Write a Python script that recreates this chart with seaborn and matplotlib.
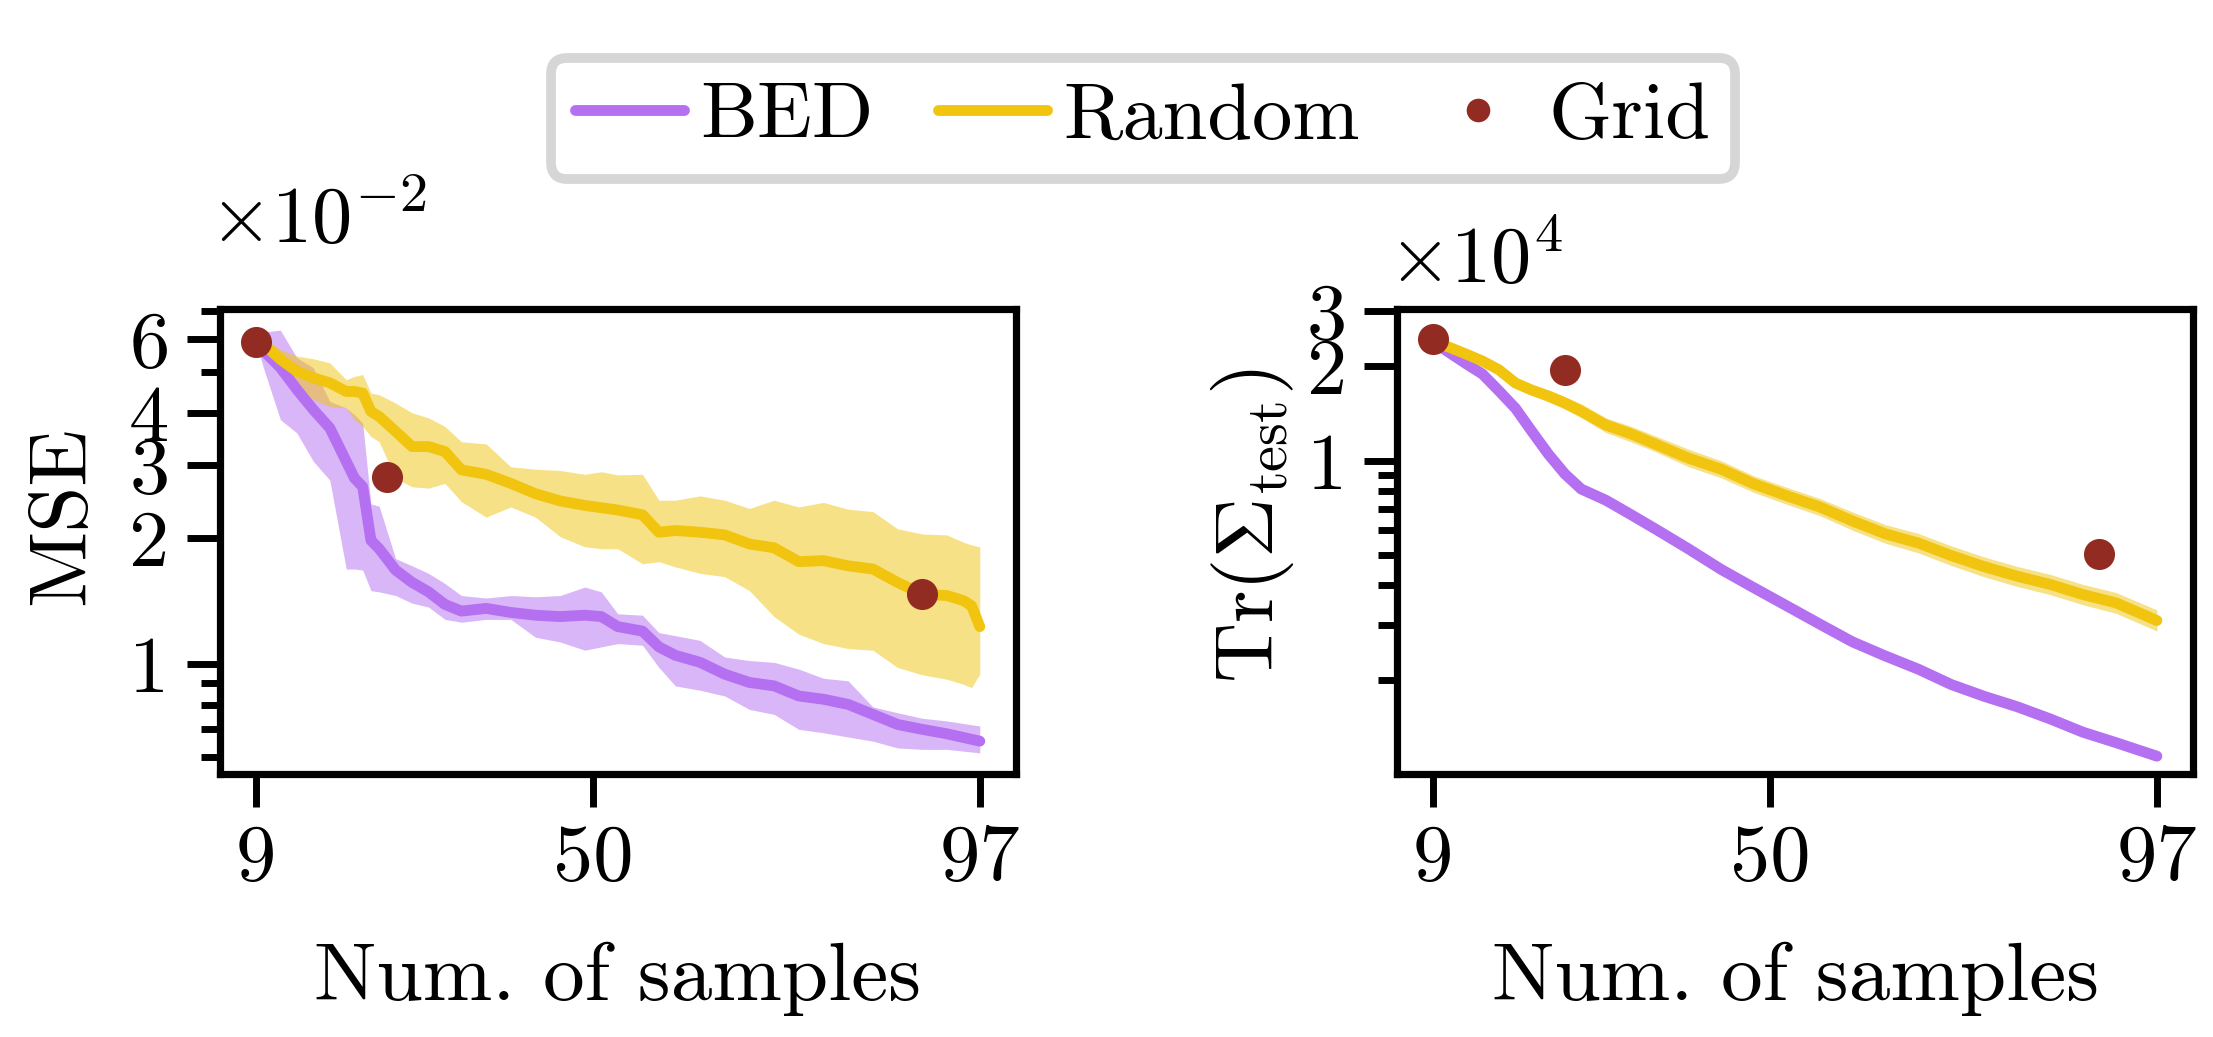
import matplotlib
matplotlib.use("Agg")
import matplotlib.pyplot as plt
from matplotlib.lines import Line2D
from matplotlib.ticker import NullFormatter
import seaborn as sns
import pandas as pd

# ---------------- data (values in units of the offset: MSE x1e-2, Tr x1e4) ----------------
bed_x = [9, 10, 12, 14, 16, 18, 20, 21, 22, 23, 24, 26, 28, 30, 32, 34, 37, 40, 43, 46,
         49, 51, 53, 56, 58, 60, 63, 66, 69, 72, 75, 78, 81, 84, 87, 90, 93, 97]
bed_mse = [5.91, 5.62, 5.13, 4.55, 4.07, 3.68, 3.06, 2.79, 2.66, 1.98, 1.89, 1.68, 1.57, 1.49,
           1.39, 1.34, 1.36, 1.33, 1.31, 1.30, 1.31, 1.30, 1.23, 1.20, 1.10, 1.05, 1.01, 0.946,
           0.904, 0.887, 0.839, 0.824, 0.801, 0.758, 0.717, 0.698, 0.681, 0.654]
bed_mse_hi = [5.91, 6.25, 6.31, 5.42, 5.13, 4.26, 4.11, 3.96, 3.78, 2.42, 2.39, 1.79, 1.72, 1.65,
              1.56, 1.46, 1.44, 1.46, 1.45, 1.46, 1.53, 1.49, 1.32, 1.31, 1.19, 1.17, 1.14, 1.04,
              1.02, 1.01, 0.973, 0.925, 0.912, 0.790, 0.765, 0.742, 0.731, 0.711]
bed_mse_lo = [5.91, 5.08, 3.85, 3.58, 3.06, 2.76, 1.69, 1.69, 1.68, 1.50, 1.49, 1.46, 1.40, 1.37,
              1.28, 1.26, 1.28, 1.28, 1.16, 1.13, 1.08, 1.10, 1.12, 1.11, 0.982, 0.887, 0.866,
              0.839, 0.779, 0.758, 0.698, 0.685, 0.669, 0.654, 0.630, 0.625, 0.625, 0.613]

rnd_x = [9, 10, 12, 14, 16, 18, 20, 21, 22, 23, 24, 26, 28, 30, 32, 34, 37, 40, 43, 46,
         49, 51, 53, 56, 58, 60, 63, 66, 69, 72, 75, 78, 81, 84, 87, 90, 93, 95, 96, 97]
rnd_mse = [5.91, 5.83, 5.37, 5.03, 4.85, 4.72, 4.50, 4.50, 4.46, 4.03, 3.92, 3.61, 3.32, 3.32,
           3.23, 2.92, 2.85, 2.71, 2.56, 2.46, 2.40, 2.37, 2.34, 2.28, 2.07, 2.09, 2.07, 2.04,
           1.94, 1.90, 1.76, 1.77, 1.72, 1.69, 1.57, 1.47, 1.46, 1.42, 1.38, 1.23]
rnd_mse_hi = [5.91, 6.05, 5.67, 5.47, 5.39, 5.27, 4.80, 4.89, 4.94, 4.46, 4.42, 4.22, 4.00, 3.89,
              3.71, 3.41, 3.37, 2.97, 2.93, 2.91, 2.85, 2.89, 2.84, 2.85, 2.47, 2.47, 2.53, 2.47,
              2.36, 2.47, 2.38, 2.44, 2.35, 2.32, 2.11, 2.05, 2.04, 1.96, 1.93, 1.91]
rnd_mse_lo = [5.91, 5.73, 5.17, 4.55, 4.30, 4.14, 4.11, 3.85, 3.71, 3.51, 3.41, 2.79, 2.66, 2.64,
              2.71, 2.45, 2.25, 2.38, 2.25, 2.02, 1.91, 1.89, 1.89, 1.74, 1.76, 1.71, 1.65, 1.62,
              1.50, 1.30, 1.18, 1.12, 1.09, 1.08, 0.982, 0.943, 0.920, 0.895, 0.879, 0.946]

grid_x = [9, 25, 90]
grid_mse = [5.91, 2.80, 1.47]

tr_x = [9, 11, 13, 15, 17, 19, 21, 23, 25, 27, 30, 33, 36, 40, 44, 48, 52, 56, 60, 64,
        68, 72, 76, 80, 84, 88, 92, 97]
bed_tr = [2.40, 2.21, 2.04, 1.89, 1.67, 1.47, 1.24, 1.05, 0.908, 0.812, 0.748, 0.674, 0.606,
          0.524, 0.450, 0.393, 0.344, 0.301, 0.264, 0.238, 0.216, 0.193, 0.177, 0.164, 0.150,
          0.136, 0.126, 0.114]
rnd_tr = [2.40, 2.30, 2.19, 2.08, 1.95, 1.77, 1.68, 1.61, 1.53, 1.44, 1.30, 1.22, 1.13, 1.02,
          0.940, 0.843, 0.773, 0.712, 0.642, 0.584, 0.546, 0.498, 0.459, 0.428, 0.403, 0.374,
          0.352, 0.309]
rnd_tr_hi = [2.40, 2.34, 2.24, 2.13, 2.00, 1.82, 1.74, 1.68, 1.60, 1.52, 1.37, 1.29, 1.20, 1.09,
             1.00, 0.895, 0.822, 0.758, 0.686, 0.625, 0.586, 0.535, 0.493, 0.460, 0.434,
             0.403, 0.380, 0.334]
rnd_tr_lo = [2.40, 2.26, 2.14, 2.03, 1.90, 1.72, 1.62, 1.54, 1.46, 1.37, 1.23, 1.15, 1.07,
             0.958, 0.882, 0.792, 0.726, 0.668, 0.600, 0.545, 0.508, 0.463, 0.426, 0.397,
             0.374, 0.347, 0.326, 0.286]
grid_tr = [2.45, 1.95, 0.503]

x_ticks = [9, 50, 97]
mse_major = [1, 2, 3, 4, 6]
mse_minor = [0.6, 0.7, 0.8, 0.9, 5, 7]
tr_major = [1, 2, 3]
tr_minor = [0.2, 0.3, 0.4, 0.5, 0.6, 0.7, 0.8, 0.9]

labels = ["BED", "Random", "Grid"]

# ---------------- style ----------------
PURPLE = "#b56ff1"
YELLOW = "#f1c40f"
RED = "#922b21"

sns.set_theme(style="ticks")
plt.rcParams["font.family"] = ["cmr10"]
plt.rcParams["mathtext.fontset"] = "cm"
plt.rcParams["axes.unicode_minus"] = False
plt.rcParams["axes.formatter.use_mathtext"] = True
plt.rcParams["text.color"] = "black"
plt.rcParams["axes.labelcolor"] = "black"
plt.rcParams["xtick.color"] = "black"
plt.rcParams["ytick.color"] = "black"

fig = plt.figure(figsize=(11.065, 5.185), dpi=200)
ax1 = fig.add_axes([0.0992, 0.2536, 0.3599, 0.4484])
ax2 = fig.add_axes([0.6313, 0.2536, 0.3597, 0.4484])

LW = 3.9
MS = 125

# left panel
ax1.fill_between(bed_x, bed_mse_lo, bed_mse_hi, color=PURPLE, alpha=0.5, lw=0, zorder=1)
ax1.fill_between(rnd_x, rnd_mse_lo, rnd_mse_hi, color=YELLOW, alpha=0.5, lw=0, zorder=1)
sns.lineplot(x=bed_x, y=bed_mse, ax=ax1, color=PURPLE, linewidth=LW, zorder=3)
sns.lineplot(x=rnd_x, y=rnd_mse, ax=ax1, color=YELLOW, linewidth=LW, zorder=3)
sns.scatterplot(x=grid_x, y=grid_mse, ax=ax1, color=RED, s=MS, linewidth=0, zorder=5)

# right panel
ax2.fill_between(tr_x, rnd_tr_lo, rnd_tr_hi, color=YELLOW, alpha=0.5, lw=0, zorder=1)
sns.lineplot(x=tr_x, y=bed_tr, ax=ax2, color=PURPLE, linewidth=LW, zorder=3)
sns.lineplot(x=tr_x, y=rnd_tr, ax=ax2, color=YELLOW, linewidth=LW, zorder=3)
sns.scatterplot(x=grid_x, y=grid_tr, ax=ax2, color=RED, s=MS, linewidth=0, zorder=5)

for ax in (ax1, ax2):
    ax.set_yscale("log")
    ax.set_xticks(x_ticks, labels=[str(v) for v in x_ticks])
    ax.tick_params(axis="both", which="major", length=12, width=2.5, labelsize=29,
                   pad=6, color="black", labelcolor="black")
    ax.tick_params(axis="y", which="minor", length=7, width=2.5, color="black")
    for sp in ax.spines.values():
        sp.set_linewidth(2.6)
        sp.set_color("black")
    ax.set_xlabel("Num. of samples", fontsize=30, color="black")
    ax.xaxis.set_label_coords(0.5, -0.36)

ax1.set_yticks(mse_major, labels=[str(v) for v in mse_major])
ax1.set_yticks(mse_minor, minor=True)
ax1.yaxis.set_minor_formatter(NullFormatter())
ax1.set_ylabel("MSE", fontsize=30, color="black")
ax1.yaxis.set_label_coords(-0.15, 0.557)
ax1.text(-0.013, 1.142, r"$\times10^{-2}$", transform=ax1.transAxes, fontsize=29,
         ha="left", va="baseline", color="black")

ax2.set_ylim(0.1, 3.05)
ax2.set_yticks(tr_major, labels=[str(v) for v in tr_major])
ax2.set_yticks(tr_minor, minor=True)
ax2.yaxis.set_minor_formatter(NullFormatter())
ax2.set_ylabel(r"$\mathrm{Tr}(\Sigma_{\mathrm{test}})$", fontsize=30, color="black")
ax2.yaxis.set_label_coords(-0.127, 0.535)
ax2.text(-0.011, 1.056, r"$\times10^{4}$", transform=ax2.transAxes, fontsize=29,
         ha="left", va="baseline", color="black")

handles = [
    Line2D([], [], color=PURPLE, lw=LW),
    Line2D([], [], color=YELLOW, lw=LW),
    Line2D([], [], color=RED, marker="o", ls="none", markersize=8.5, markeredgewidth=0),
]
leg = fig.legend(handles, labels, loc="center", bbox_to_anchor=(0.5165, 0.886), ncol=3,
                 fontsize=29, handlelength=1.35, handletextpad=0.2, columnspacing=0.8,
                 borderpad=0.3, frameon=True, fancybox=True, framealpha=1)
leg.get_frame().set_edgecolor("#d6d6d6")
leg.get_frame().set_linewidth(3.5)
for t in leg.get_texts():
    t.set_color("black")

fig.savefig("out.png", dpi=200, facecolor="white")
